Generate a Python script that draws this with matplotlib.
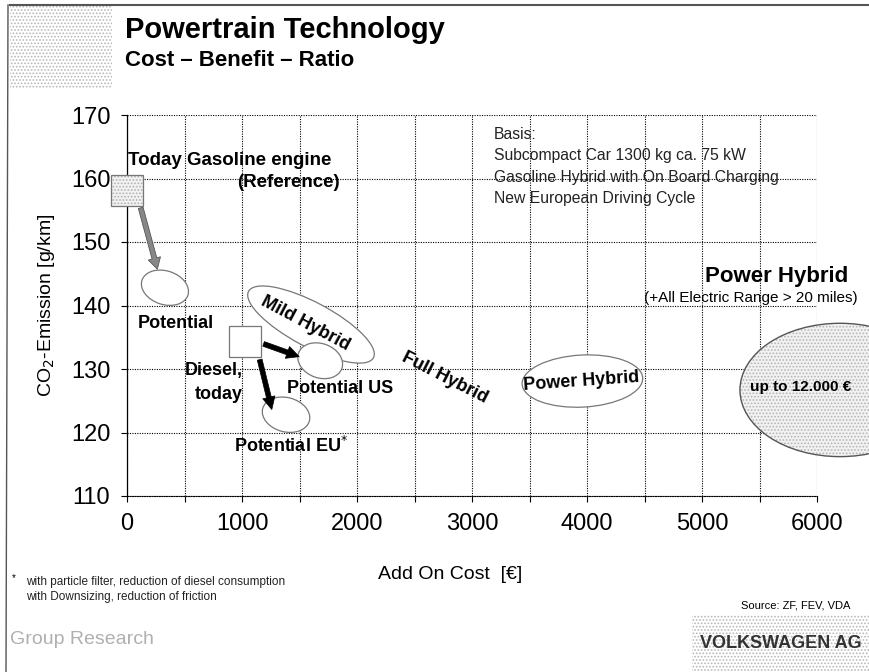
import matplotlib
matplotlib.use('Agg')
import matplotlib.pyplot as plt
from matplotlib.patches import Ellipse, Rectangle
from matplotlib.transforms import IdentityTransform
from matplotlib.ticker import MultipleLocator

plt.rcParams['font.family'] = ['Liberation Sans', 'DejaVu Sans']
plt.rcParams['hatch.linewidth'] = 0.8

# --- data (cost in EUR, CO2 in g/km) ---
x_ticks = [0, 1000, 2000, 3000, 4000, 5000, 6000]
y_ticks = [110, 120, 130, 140, 150, 160, 170]

# starting points (squares): cost, co2
gasoline_today = (0, 158.1)
diesel_today = (1026, 134.3)
square_size = (285, 4.8)

# ranges drawn as ellipses: name, cost, co2, cost span, co2 span, tilt
blobs = [
    ('gas_potential', 330, 142.8, 420, 5.3, -18),
    ('mild_hybrid', 1600, 137.0, 1230, 7.0, -28),
    ('potential_us', 1680, 131.3, 400, 5.4, -20),
    ('potential_eu', 1383, 122.8, 420, 5.4, -15),
    ('power_hybrid', 3960, 128.1, 1050, 8.2, 3),
    ('plugin_hybrid', 6200, 126.7, 1740, 21.0, 0),
]

# arrows: from -> to (cost, co2)
gas_arrow = ((113, 155.8), (270, 145.3))
diesel_arrows = [((1165, 134.1), (1520, 131.8)),
                 ((1148, 131.9), (1265, 123.2))]

basis_lines = ['Basis:', 'Subcompact Car 1300 kg ca. 75 kW',
               'Gasoline Hybrid with On Board Charging', 'New European Driving Cycle']

fig = plt.figure(figsize=(8.69, 6.72), dpi=100)
ax = fig.add_axes([127 / 869, 1 - 496 / 672, 690 / 869, 381 / 672])
ax.set_xlim(0, 6000)
ax.set_ylim(110, 170)
ax.set_xticks(x_ticks)
ax.set_yticks(y_ticks)
ax.xaxis.set_minor_locator(MultipleLocator(500))
ax.tick_params(labelsize=17, length=4, width=0.8, pad=8)
ax.tick_params(axis='x', which='minor', length=4, width=0.8)
ax.grid(True, which='both', color='black', linestyle=(0, (1, 1.2)), linewidth=0.8)
for s in ['top', 'right']:
    ax.spines[s].set_visible(False)
ax.spines['left'].set_linewidth(0.9)
ax.spines['bottom'].set_linestyle((0, (1, 1.2)))
ax.set_xlabel('Add On Cost  [€]', fontsize=14)
ax.xaxis.set_label_coords((450 - 127) / 690, -0.185)
ax.set_ylabel('CO$_2$-Emission [g/km]', fontsize=14, labelpad=10)

fig.canvas.draw()


def blob(x, y, w, h, ang, **kw):
    p = ax.transData.transform([(x, y), (x + w, y + h)])
    wp, hp = p[1] - p[0]
    e = Ellipse(p[0], wp, hp, angle=ang, transform=IdentityTransform(),
                clip_on=False, **kw)
    ax.add_artist(e)


for name, x, y, w, h, ang in blobs:
    if name == 'plugin_hybrid':
        blob(x, y, w, h, ang, facecolor='#f2f2f2', edgecolor='#b5b5b5',
             hatch='.....', linewidth=0, zorder=3)
        blob(x, y, w, h, ang, facecolor='none', edgecolor='#555555',
             linewidth=1.0, zorder=3)
    else:
        blob(x, y, w, h, ang, facecolor='white', edgecolor='#777777',
             linewidth=0.9, zorder=3)

# squares
for (cx, cy), hatched in [(gasoline_today, True), (diesel_today, False)]:
    x0, y0 = cx - square_size[0] / 2, cy - square_size[1] / 2
    if hatched:
        ax.add_patch(Rectangle((x0, y0), square_size[0], square_size[1],
                               facecolor='#f2f2f2', edgecolor='#b0b0b0', hatch='.....',
                               linewidth=0, clip_on=False, zorder=4))
    ax.add_patch(Rectangle((x0, y0), square_size[0], square_size[1],
                           facecolor='none' if hatched else 'white',
                           edgecolor='#777777', linewidth=0.9, clip_on=False, zorder=4))

ax.annotate('', xy=gas_arrow[1], xytext=gas_arrow[0],
            arrowprops=dict(arrowstyle='simple,head_width=0.9,head_length=0.8,tail_width=0.35',
                            facecolor='#888888', edgecolor='#555555', lw=0.6), zorder=5)
for a, b in diesel_arrows:
    ax.annotate('', xy=b, xytext=a,
                arrowprops=dict(arrowstyle='simple,head_width=0.9,head_length=0.9,tail_width=0.35',
                                facecolor='black', edgecolor='black', lw=0.5), zorder=5)

bold = dict(fontweight='bold', zorder=6)
ax.text(10, 162.9, 'Today Gasoline engine', fontsize=13.5, ha='left', va='center', **bold)
ax.text(1852, 159.3, '(Reference)', fontsize=13.5, ha='right', va='center', **bold)
ax.text(426, 137.2, 'Potential', fontsize=13, ha='center', va='center', **bold)
ax.text(1548, 137.2, 'Mild Hybrid', fontsize=13, rotation=-28, ha='center', va='center',
        rotation_mode='anchor', **bold)
ax.text(1009, 129.7, 'Diesel,', fontsize=13, ha='right', va='center', **bold)
ax.text(1009, 126.0, 'today', fontsize=13, ha='right', va='center', **bold)
ax.text(1852, 127.0, 'Potential US', fontsize=13, ha='center', va='center', **bold)
ax.text(1426, 117.9, 'Potential EU$^{*}$', fontsize=13, ha='center', va='center', **bold)
ax.text(2765, 128.6, 'Full Hybrid', fontsize=13, rotation=-27, ha='center', va='center',
        rotation_mode='anchor', **bold)
ax.text(3948, 128.1, 'Power Hybrid', fontsize=13, rotation=4, ha='center', va='center',
        rotation_mode='anchor', **bold)
ax.text(5860, 127.2, 'up to 12.000 €', fontsize=11, ha='center', va='center', **bold)
ax.text(5652, 144.5, 'Power Hybrid', fontsize=16, ha='center', va='center', **bold)
ax.text(5426, 141.2, '(+All Electric Range > 20 miles)', fontsize=11, ha='center',
        va='center', zorder=6)
for i, line in enumerate(basis_lines):
    ax.text(3191, 166.9 - i * 3.35, line, fontsize=11.3, ha='left', va='center',
            color='#222222', zorder=6)

# slide decorations
fig.add_artist(Rectangle((10 / 869, 1 - 88 / 672), 102 / 869, 83 / 672, transform=fig.transFigure,
                         facecolor='white', edgecolor='#b8b8b8', linewidth=0, hatch='.....'))
fig.add_artist(Rectangle((692 / 869, 0), 177 / 869, 57 / 672, transform=fig.transFigure,
                         facecolor='white', edgecolor='#b8b8b8', linewidth=0, hatch='.....'))
fig.text(125 / 869, 1 - 30 / 672, 'Powertrain Technology', fontsize=21, fontweight='bold',
         ha='left', va='center')
fig.text(125 / 869, 1 - 61 / 672, 'Cost – Benefit – Ratio', fontsize=16, fontweight='bold',
         ha='left', va='center')
fig.add_artist(plt.Line2D([10 / 869, 1], [1 - 5 / 672, 1 - 5 / 672], transform=fig.transFigure,
                          color='#555555', lw=1.5))
fig.add_artist(plt.Line2D([8 / 869, 6 / 869], [1 - 5 / 672, 0], transform=fig.transFigure,
                          color='#555555', lw=1.0))
fig.text(12 / 869, 1 - 578 / 672, '*', fontsize=7, ha='left', va='center')
fig.text(26 / 869, 1 - 582 / 672, 'with particle filter, reduction of diesel consumption',
         fontsize=8.5, color='#222222', ha='left', va='center')
fig.text(26 / 869, 1 - 597 / 672, 'with Downsizing, reduction of friction',
         fontsize=8.5, color='#222222', ha='left', va='center')
fig.text(850 / 869, 1 - 605 / 672, 'Source: ZF, FEV, VDA', fontsize=8, ha='right', va='center')
fig.text(10 / 869, 1 - 640 / 672, 'Group Research', fontsize=14, color='#b0b0b0',
         ha='left', va='center')
fig.text(862 / 869, 1 - 643 / 672, 'VOLKSWAGEN AG', fontsize=13, fontweight='bold',
         color='#333333', ha='right', va='center', zorder=5)

fig.savefig('out.png', dpi=100)
